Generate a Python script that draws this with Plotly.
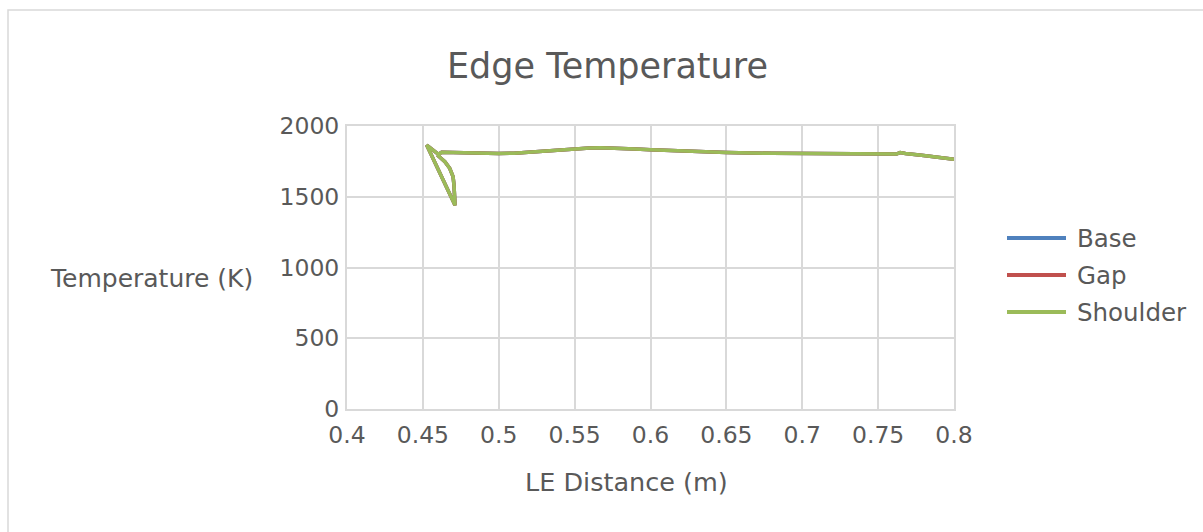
import plotly.graph_objects as go

# Leading-edge distance (m) along the traced edge and surface temperature (K)
distance_m = [0.4595, 0.4645, 0.4677, 0.4699, 0.4705, 0.4709, 0.4712,
              0.4525, 0.4603, 0.4624, 0.4700, 0.4800, 0.4900, 0.5000, 0.5100,
              0.5200, 0.5300, 0.5400, 0.5500, 0.5600, 0.5670, 0.5750, 0.5900,
              0.6000, 0.6200, 0.6500, 0.6800, 0.7000, 0.7200, 0.7500, 0.7620,
              0.7645, 0.7680, 0.7800, 0.7900, 0.8000]
temp_shoulder = [1795, 1748, 1701, 1642, 1583, 1510, 1440,
                 1865, 1800, 1815, 1812, 1810, 1808, 1806, 1808,
                 1815, 1825, 1834, 1840, 1845, 1846, 1845, 1838,
                 1832, 1822, 1813, 1807, 1805, 1803, 1801, 1802,
                 1812, 1806, 1792, 1779, 1765]
temp_base = [1795, 1748, 1701, 1642, 1583, 1510, 1440,
             1865, 1800, 1815, 1812, 1810, 1808, 1806, 1808,
             1815, 1825, 1834, 1840, 1845, 1846, 1845, 1838,
             1832, 1822, 1813, 1807, 1805, 1803, 1801, 1802,
             1812, 1806, 1792, 1779, 1765]
temp_gap = [1795, 1748, 1701, 1642, 1583, 1510, 1440,
            1865, 1800, 1815, 1812, 1810, 1808, 1806, 1808,
            1815, 1825, 1834, 1840, 1845, 1846, 1845, 1838,
            1832, 1822, 1813, 1807, 1805, 1803, 1801, 1802,
            1812, 1806, 1792, 1779, 1765]

series_names = ["Base", "Gap", "Shoulder"]
series_colors = ["#4F81BD", "#C0504D", "#9BBB59"]
series_temps = [temp_base, temp_gap, temp_shoulder]

x_ticks = [0.4, 0.45, 0.5, 0.55, 0.6, 0.65, 0.7, 0.75, 0.8]
x_tick_text = ["0.4", "0.45", "0.5", "0.55", "0.6", "0.65", "0.7", "0.75", "0.8"]
y_ticks = [0, 500, 1000, 1500, 2000]

FONT = "DejaVu Sans"
TEXT = "#595959"
GRID = "#D9D9D9"

W, H = 1203, 532
L, R, T, B = 347, 249, 126, 123
pw, ph = W - L - R, H - T - B


def px(xp):
    return (xp - L) / pw


def py(yp):
    return (H - B - yp) / ph


fig = go.Figure()
for name, color, temps in zip(series_names, series_colors, series_temps):
    fig.add_trace(go.Scatter(x=distance_m, y=temps, mode="lines", name=name,
                             line=dict(color=color, width=3.5),
                             showlegend=False))

annotations = [
    dict(text="Edge Temperature", x=px(607), y=py(66), font=dict(size=35)),
    dict(text="LE Distance (m)", x=px(626), y=py(482), font=dict(size=25.5)),
    dict(text="Temperature (K)", x=px(151), y=py(278), font=dict(size=25)),
]
shapes = [
    # chart frame
    dict(type="rect", xref="paper", yref="paper",
         x0=px(8), x1=px(1215), y0=py(10), y1=py(545),
         line=dict(color=GRID, width=1.5), layer="below"),
]

# legend drawn as line swatches with labels
for i, (name, color) in enumerate(zip(series_names, series_colors)):
    yc = 238 + 37 * i
    shapes.append(dict(type="line", xref="paper", yref="paper",
                       x0=px(1007), x1=px(1066), y0=py(yc), y1=py(yc),
                       line=dict(color=color, width=4)))
    annotations.append(dict(text=name, x=px(1075), y=py(yc), xanchor="left",
                            font=dict(size=24.5)))

for a in annotations:
    a.update(xref="paper", yref="paper", showarrow=False)
    a.setdefault("xanchor", "center")
    a["yanchor"] = "middle"
    a["font"].update(family=FONT, color=TEXT)

fig.update_layout(
    width=W, height=H,
    margin=dict(l=L, r=R, t=T, b=B),
    paper_bgcolor="white", plot_bgcolor="white",
    font=dict(family=FONT, color=TEXT),
    showlegend=False,
    annotations=annotations,
    shapes=shapes,
    xaxis=dict(range=[0.4, 0.8], tickvals=x_ticks, ticktext=x_tick_text,
               showgrid=True, gridcolor=GRID, gridwidth=2,
               showline=True, linecolor=GRID, linewidth=2, mirror=True,
               zeroline=False, ticks="outside", ticklen=4,
               tickcolor="rgba(0,0,0,0)", tickfont=dict(size=23.5, color=TEXT)),
    yaxis=dict(range=[0, 2000], tickvals=y_ticks,
               showgrid=True, gridcolor=GRID, gridwidth=2,
               showline=True, linecolor=GRID, linewidth=2, mirror=True,
               zeroline=False, ticks="outside", ticklen=1,
               tickcolor="rgba(0,0,0,0)", tickfont=dict(size=23.5, color=TEXT)),
)

fig.write_html("out.html")
